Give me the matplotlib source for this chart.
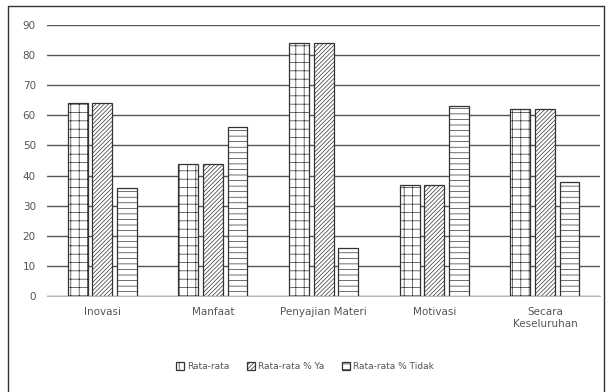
import matplotlib
matplotlib.use("Agg")
import matplotlib.pyplot as plt
import numpy as np
from matplotlib.lines import Line2D

categories = ["Inovasi", "Manfaat", "Penyajian Materi", "Motivasi", "Secara\nKeseluruhan"]
rata = [64, 44, 84, 37, 62]
ya = [64, 44, 84, 37, 62]
tidak = [36, 56, 16, 63, 38]
series_names = ["Rata-rata", "Rata-rata % Ya", "Rata-rata % Tidak"]
yticks = [0, 10, 20, 30, 40, 50, 60, 70, 80, 90]

plt.rcParams['hatch.linewidth'] = 0.5
fig = plt.figure(figsize=(6.1, 3.92), dpi=100)
ax = fig.add_axes([0.077, 0.245, 0.907, 0.691])

x = np.arange(len(categories))
w = 0.18
off = 0.222
hatches = ['++', '////////', '---']
for i, (vals, h) in enumerate(zip([rata, ya, tidak], hatches)):
    ax.bar(x + (i - 1) * off, vals, w, color='white', edgecolor='#333333',
           hatch=h, linewidth=0.9, label=series_names[i], zorder=3)

ax.set_ylim(0, 90)
ax.set_xlim(-0.5, len(categories) - 0.5)
ax.set_yticks(yticks)
ax.yaxis.grid(True, color='#555555', linewidth=1.0, zorder=0)
ax.set_axisbelow(True)
for s in ['top', 'right', 'left']:
    ax.spines[s].set_visible(False)
ax.spines['bottom'].set_color('#bbbbbb')
ax.tick_params(axis='both', length=0, labelsize=7.5, labelcolor='#555555', pad=8)
ax.set_xticks(x)
ax.set_xticklabels(categories)

leg = fig.legend(loc='center', bbox_to_anchor=(0.5, 0.065), ncol=3, frameon=False,
                 fontsize=6.5, handlelength=0.9, handleheight=0.9, handletextpad=0.3,
                 columnspacing=2.0)
for t in leg.get_texts():
    t.set_color('#555555')

fig.lines.append(Line2D([0.013, 0.013, 0.99, 0.99], [0.0, 0.985, 0.985, 0.0],
                        transform=fig.transFigure, color='#333333', linewidth=1.0))
fig.savefig("out.png", dpi=100)
